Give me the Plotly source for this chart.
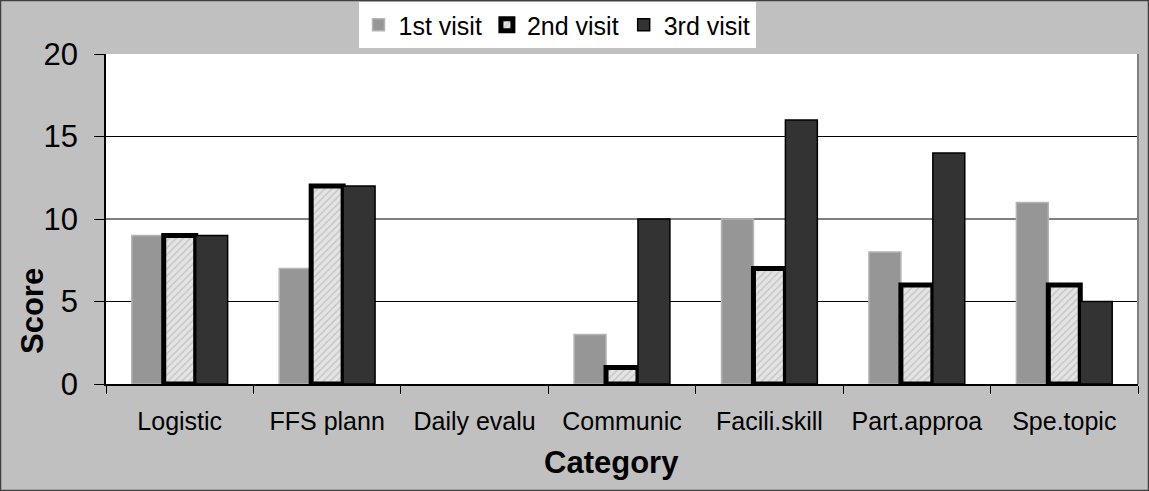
import plotly.graph_objects as go

categories = ["Logistic", "FFS plann", "Daily evalu", "Communic", "Facili.skill", "Part.approa", "Spe.topic"]
visit1 = [9, 7, 0, 3, 10, 8, 11]
visit2 = [9, 12, 0, 1, 7, 6, 6]
visit3 = [9, 12, 0, 10, 16, 14, 5]
series_names = ["1st visit", "2nd visit", "3rd visit"]
y_ticks = [0, 5, 10, 15, 20]
grid_vals = [5, 10, 15]
x_title = "Category"
y_title = "Score"

FONT = "Liberation Sans, Arial, sans-serif"


def widths(vals, w):
    return [w if v > 0 else 0 for v in vals]


fig = go.Figure()
fig.add_trace(go.Bar(
    name=series_names[0], x=categories, y=visit1,
    marker=dict(color="#969696", line=dict(color="#b4b4b4", width=widths(visit1, 1.5))),
))
fig.add_trace(go.Bar(
    name=series_names[1], x=categories, y=visit2,
    marker=dict(color="#dcdcdc", line=dict(color="#000000", width=widths(visit2, 5)),
                pattern=dict(shape="/", fgcolor="#a8a8a8", bgcolor="#e4e4e4", size=5, solidity=0.3)),
))
fig.add_trace(go.Bar(
    name=series_names[2], x=categories, y=visit3,
    marker=dict(color="#333333", line=dict(color="#000000", width=widths(visit3, 1.5))),
))

for g in grid_vals:
    fig.add_shape(type="line", xref="paper", yref="y", x0=0, x1=1, y0=g, y1=g,
                  line=dict(color="#000000", width=1), layer="below")

PW, PH = 1032, 330
L, T = 106, 54
# figure border
fig.add_shape(type="rect", xref="paper", yref="paper", x0=-105.5 / PW, x1=1 + 10.5 / PW,
              y0=-106.5 / PH, y1=1 + 53.5 / PH, line=dict(color="#404040", width=1.5))
# right plot border
fig.add_shape(type="line", xref="paper", yref="paper", x0=1, x1=1, y0=0, y1=1,
              line=dict(color="#808080", width=2))

# axis titles as annotations (positioned like the reference)
fig.add_annotation(text="<b>%s</b>" % x_title, xref="paper", yref="paper",
                   x=(611 - L) / PW, y=(T + PH - 462) / PH, xanchor="center", yanchor="middle",
                   showarrow=False, font=dict(size=31, family=FONT, color="#000000"))
fig.add_annotation(text="<b>%s</b>" % y_title, xref="paper", yref="paper", textangle=-90,
                   x=(32 - L) / PW, y=(T + PH - 311) / PH, xanchor="center", yanchor="middle",
                   showarrow=False, font=dict(size=31, family=FONT, color="#000000"))

fig.update_layout(
    width=1149, height=491,
    margin=dict(l=L, r=11, t=T, b=107, autoexpand=False),
    paper_bgcolor="#c0c0c0",
    plot_bgcolor="#ffffff",
    barmode="group",
    bargap=0.35,
    bargroupgap=0,
    font=dict(family=FONT, color="#000000"),
    showlegend=True,
    legend=dict(orientation="h", x=(557 - L) / PW, xanchor="center", y=1 + 52 / PH, yanchor="top",
                bgcolor="#ffffff", font=dict(size=25, family=FONT),
                itemwidth=30, traceorder="normal"),
    xaxis=dict(
        showline=True, linecolor="#000000", linewidth=1.5,
        ticks="outside", tickson="boundaries", ticklen=8, tickcolor="#000000",
        tickfont=dict(size=25, family=FONT),
        ticklabelstandoff=14,
        automargin=False,
    ),
    yaxis=dict(
        range=[0, 20], tickvals=y_ticks, showgrid=False,
        showline=True, linecolor="#000000", linewidth=1.5,
        ticks="outside", ticklen=10, tickcolor="#000000",
        tickfont=dict(size=31, family=FONT),
        ticklabelstandoff=10,
        zeroline=False, automargin=False,
    ),
)

fig.write_html("out.html", config={"displayModeBar": False},
               post_script="document.body.style.margin='0';")
